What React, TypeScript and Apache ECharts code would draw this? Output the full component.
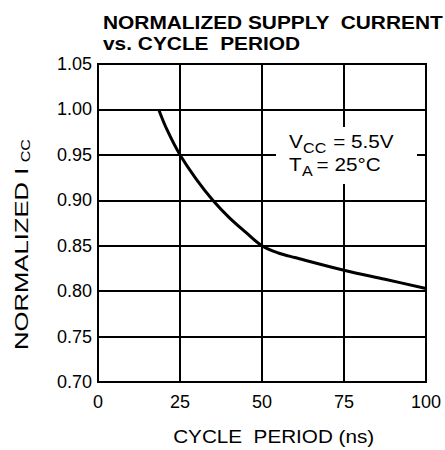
import React, { useEffect, useRef } from "react";
import * as echarts from "echarts";

const periodNs = [18.5, 21, 25, 30, 35, 40, 45, 50, 55, 60, 75, 87.5, 100];
const normIcc = [1.0, 0.978, 0.95, 0.923, 0.9, 0.881, 0.865, 0.85, 0.842, 0.837, 0.823, 0.813, 0.803];
const xTicks = [0, 25, 50, 75, 100];
const yTicks = [0.7, 0.75, 0.8, 0.85, 0.9, 0.95, 1.0, 1.05];
const titleLines = ["NORMALIZED SUPPLY  CURRENT", "vs. CYCLE  PERIOD"];
const xName = "CYCLE  PERIOD (ns)";
const yName = "NORMALIZED I";
const ySub = "CC";

const FONT = "'Liberation Sans', Arial, Helvetica, sans-serif";

export default function App() {
  const ref = useRef<HTMLDivElement>(null);
  useEffect(() => {
    document.body.style.margin = "0";
    const chart = echarts.init(ref.current!, null, { renderer: "svg" });
    const data = periodNs.map((x, i) => [x, normIcc[i]]);
    const ann = (text: string, x: number, y: number, size: number) => ({
      type: "text",
      x,
      y,
      z: 20,
      style: { text, font: `${size}px ${FONT}`, fill: "#000", align: "left", verticalAlign: "middle" },
    });
    chart.setOption({
      animation: false,
      backgroundColor: "#ffffff",
      grid: {
        left: 98,
        top: 64,
        right: 19,
        bottom: 68,
        show: true,
        borderColor: "#000",
        borderWidth: 2,
      },
      xAxis: {
        type: "value",
        min: xTicks[0],
        max: xTicks[xTicks.length - 1],
        interval: 25,
        axisLine: { show: true, lineStyle: { color: "#000", width: 2 } },
        axisTick: { show: false },
        splitLine: { show: true, lineStyle: { color: "#000", width: 2 } },
        axisLabel: {
          color: "#000",
          fontFamily: FONT,
          fontSize: 18,
          margin: 11,
        },
      },
      yAxis: {
        type: "value",
        min: yTicks[0],
        max: yTicks[yTicks.length - 1],
        interval: 0.05,
        axisLine: { show: true, lineStyle: { color: "#000", width: 2 } },
        axisTick: { show: false },
        splitLine: { show: true, lineStyle: { color: "#000", width: 2 } },
        axisLabel: {
          color: "#000",
          fontFamily: FONT,
          fontSize: 18,
          margin: 6,
          padding: [8, 0, 0, 0],
          formatter: (v: number) => v.toFixed(2),
        },
      },
      series: [
        {
          type: "line",
          data,
          showSymbol: false,
          smooth: 0.35,
          lineStyle: { color: "#000", width: 3 },
          z: 5,
        },
      ],
      graphic: [
        {
          type: "group",
          x: 103,
          y: 0,
          scaleX: 1.16,
          children: [
            {
              type: "text",
              x: 0,
              y: 22.6,
              style: {
                text: titleLines[0],
                font: `bold 18px ${FONT}`,
                fill: "#000",
                align: "left",
                verticalAlign: "middle",
              },
            },
            {
              type: "text",
              x: 0,
              y: 44,
              style: {
                text: titleLines[1],
                font: `bold 18px ${FONT}`,
                fill: "#000",
                align: "left",
                verticalAlign: "middle",
              },
            },
          ],
        },
        {
          type: "text",
          x: 273.7,
          y: 436.7,
          scaleX: 1.15,
          style: {
            text: xName,
            font: `18px ${FONT}`,
            fill: "#000",
            align: "center",
            verticalAlign: "middle",
          },
        },
        {
          type: "group",
          x: 21.3,
          y: 350,
          rotation: Math.PI / 2,
          scaleX: 1.35,
          children: [
            {
              type: "text",
              x: 0,
              y: 0,
              style: {
                text: yName,
                font: `19px ${FONT}`,
                fill: "#000",
                align: "left",
                verticalAlign: "middle",
              },
            },
            {
              type: "text",
              x: 139,
              y: 4,
              style: {
                text: ySub,
                font: `12px ${FONT}`,
                fill: "#000",
                align: "left",
                verticalAlign: "middle",
              },
            },
          ],
        },
        {
          type: "rect",
          shape: { x: 276, y: 127, width: 141, height: 57 },
          style: { fill: "#fff" },
          z: 10,
        },
        {
          type: "group",
          x: 289,
          y: 0,
          scaleX: 1.15,
          z: 20,
          children: [
            ann("V", 0, 141.7, 18),
            ann("CC", 12.2, 148, 14),
            ann("= 5.5V", 38.5, 141.7, 18),
            ann("T", 0, 164.2, 18),
            ann("A", 11.2, 170.5, 14),
            ann("= 25°C", 24, 164.2, 18),
          ],
        },
      ],
    });
    return () => chart.dispose();
  }, []);
  return <div ref={ref} style={{ width: 445, height: 450 }} />;
}
